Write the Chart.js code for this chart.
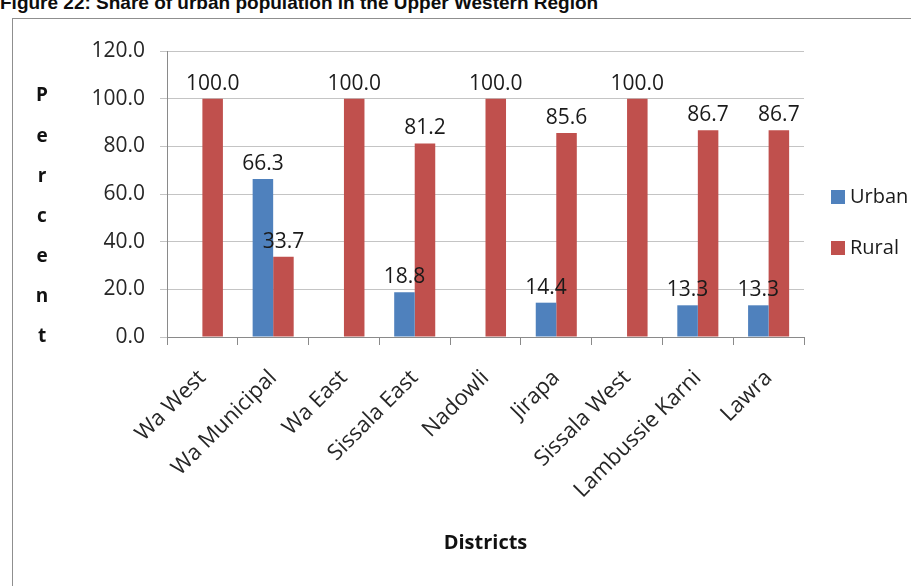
<!DOCTYPE html>
<html>
<head>
<meta charset="utf-8">
<script src="https://cdn.jsdelivr.net/npm/chart.js@4.4.1/dist/chart.umd.min.js"></script>
<style>
  html, body { margin: 0; padding: 0; background: #fff; overflow: hidden; }
  #title {
    position: absolute; left: 0; top: -7px; line-height: 19px;
    font-family: "Liberation Sans Narrow", "Liberation Sans", sans-serif;
    font-weight: bold; font-size: 19px; color: #0d0d0d; white-space: nowrap;
  }
  #frame {
    position: absolute; left: 12px; top: 18px; width: 960px; height: 640px;
    border: 1px solid #8f8f8f; box-sizing: border-box;
  }
  #chart { position: absolute; left: 0; top: 0; }
</style>
</head>
<body>
<div id="title">Figure 22: Share of urban population in the Upper Western Region</div>
<div id="frame"></div>
<canvas id="chart" width="911" height="586"></canvas>
<script>
const districts = ["Wa West", "Wa Municipal", "Wa East", "Sissala East", "Nadowli", "Jirapa", "Sissala West", "Lambussie Karni", "Lawra"];
const urban = [0, 66.3, 0, 18.8, 0, 14.4, 0, 13.3, 13.3];
const rural = [100.0, 33.7, 100.0, 81.2, 100.0, 85.6, 100.0, 86.7, 86.7];
const yTitle = "Percent";
const xTitle = "Districts";

const FONT = "'Open Sans', sans-serif";

// value labels above each bar (Excel style, zero values left blank)
const barLabels = {
    id: "barLabels",
    afterDatasetsDraw(chart) {
        const ctx = chart.ctx;
        ctx.save();
        ctx.font = "21px " + FONT;
        ctx.fillStyle = "#1a1a1a";
        ctx.textAlign = "center";
        ctx.textBaseline = "alphabetic";
        chart.data.datasets.forEach((ds, di) => {
            chart.getDatasetMeta(di).data.forEach((bar, i) => {
                const v = ds.data[i];
                if (!v) return;
                ctx.fillText(v.toFixed(1), bar.x, bar.y - 9);
            });
        });
        ctx.restore();
    }
};

// stacked letters for the y title and the side legend
const extras = {
    id: "extras",
    afterDraw(chart) {
        const ctx = chart.ctx;
        const area = chart.chartArea;
        ctx.save();
        ctx.font = "bold 19px " + FONT;
        ctx.fillStyle = "#111";
        ctx.textAlign = "center";
        ctx.textBaseline = "middle";
        const letters = yTitle.split("");
        const step = (area.bottom - (area.top + 45)) / (letters.length - 1);
        letters.forEach((ch, i) => ctx.fillText(ch, 42, area.top + 45 + i * step));

        ctx.font = "20px " + FONT;
        ctx.textAlign = "left";
        chart.data.datasets.forEach((ds, i) => {
            const cy = 197 + i * 51;
            ctx.fillStyle = ds.backgroundColor;
            ctx.fillRect(831, cy - 7, 14, 14);
            ctx.fillStyle = "#1a1a1a";
            ctx.fillText(ds.label, 850, cy);
        });
        ctx.restore();
    }
};

new Chart(document.getElementById("chart"), {
    type: "bar",
    data: {
        labels: districts,
        datasets: [
            { label: "Urban", data: urban, backgroundColor: "#4F81BD" },
            { label: "Rural", data: rural, backgroundColor: "#C0504D" }
        ]
    },
    options: {
        responsive: false,
        animation: false,
        categoryPercentage: 0.58,
        barPercentage: 1.0,
        layout: { padding: { top: 51, right: 107, left: 0, bottom: 0 } },
        plugins: {
            legend: { display: false },
            tooltip: { enabled: false }
        },
        scales: {
            y: {
                min: 0,
                max: 120,
                ticks: {
                    stepSize: 20,
                    padding: 15,
                    color: "#262626",
                    font: { family: FONT, size: 21 },
                    callback: v => v.toFixed(1)
                },
                grid: { color: "#c4c4c4", tickLength: 7, tickColor: "#c4c4c4" },
                border: { color: "#8a8a8a" },
                afterFit: s => { s.width = 167; }
            },
            x: {
                ticks: {
                    autoSkip: false,
                    minRotation: 45,
                    maxRotation: 45,
                    padding: 20,
                    color: "#262626",
                    font: { family: FONT, size: 22 }
                },
                grid: { drawOnChartArea: false, tickLength: 8, tickColor: "#8a8a8a" },
                border: { color: "#8a8a8a" },
                title: {
                    display: true,
                    text: xTitle,
                    color: "#111",
                    font: { family: FONT, size: 20, weight: "bold" },
                    padding: { top: 31, bottom: 31 }
                },
                afterFit: s => { s.height = 249; }
            }
        }
    },
    plugins: [barLabels, extras]
});
</script>
</body>
</html>
